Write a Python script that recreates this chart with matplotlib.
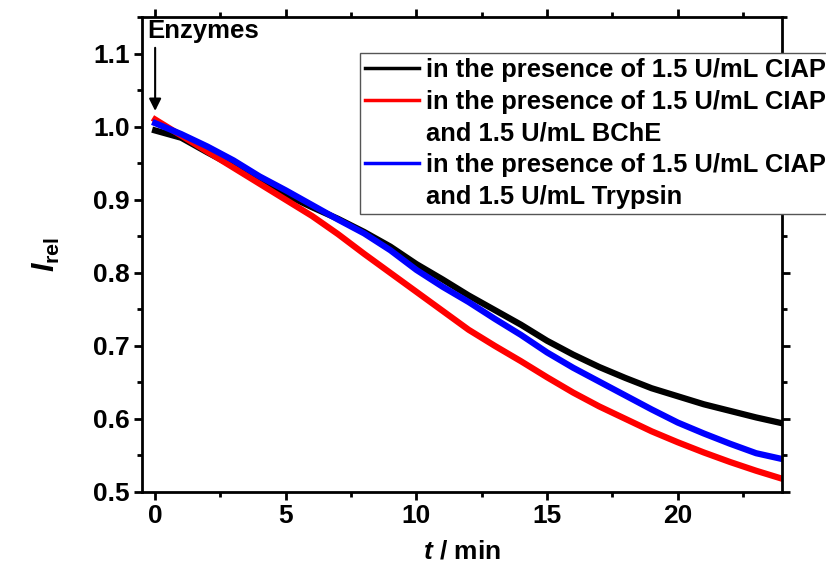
import numpy as np
import matplotlib
matplotlib.use("Agg")
import matplotlib.pyplot as plt
from matplotlib.lines import Line2D
from matplotlib.ticker import MultipleLocator

# values at each minute
t_min = [0, 1, 2, 3, 4, 5, 6, 7, 8, 9, 10, 11, 12,
         13, 14, 15, 16, 17, 18, 19, 20, 21, 22, 23, 24]
ciap = [0.995, 0.985, 0.965, 0.946, 0.926, 0.907, 0.890, 0.874, 0.856, 0.836, 0.812, 0.791, 0.769,
        0.749, 0.729, 0.707, 0.688, 0.671, 0.656, 0.642, 0.631, 0.620, 0.611, 0.602, 0.594]
ciap_bche = [1.010, 0.988, 0.966, 0.944, 0.922, 0.900, 0.878, 0.853, 0.826, 0.800, 0.774, 0.748, 0.722,
             0.700, 0.679, 0.657, 0.636, 0.617, 0.600, 0.583, 0.568, 0.554, 0.541, 0.529, 0.518]
ciap_trypsin = [1.005, 0.990, 0.973, 0.954, 0.932, 0.913, 0.893, 0.873, 0.854, 0.831, 0.804, 0.781, 0.760,
                0.737, 0.715, 0.691, 0.670, 0.651, 0.632, 0.613, 0.595, 0.580, 0.566, 0.553, 0.545]

labels = [
    "in the presence of 1.5 U/mL CIAP",
    "in the presence of 1.5 U/mL CIAP",
    "and 1.5 U/mL BChE",
    "in the presence of 1.5 U/mL CIAP",
    "and 1.5 U/mL Trypsin",
]

plt.rcParams["font.family"] = "Liberation Sans"
plt.rcParams["font.weight"] = "bold"
plt.rcParams["mathtext.fontset"] = "custom"
plt.rcParams["mathtext.rm"] = "Liberation Sans:bold"
plt.rcParams["mathtext.it"] = "Liberation Sans:bold:italic"
plt.rcParams["mathtext.bf"] = "Liberation Sans:bold"

fig = plt.figure(figsize=(8.26, 5.76), dpi=100)
ax = fig.add_axes([0.172, 0.146, 0.775, 0.824])

lw = 4.5
ax.plot(t_min, ciap, color="black", lw=lw)
ax.plot(t_min, ciap_bche, color="red", lw=lw)
ax.plot(t_min, ciap_trypsin, color="blue", lw=lw)

ax.set_xlim(-0.5, 24)
ax.set_ylim(0.5, 1.15)
ax.xaxis.set_major_locator(MultipleLocator(5))
ax.xaxis.set_minor_locator(MultipleLocator(2.5))
ax.yaxis.set_major_locator(MultipleLocator(0.1))
ax.yaxis.set_minor_locator(MultipleLocator(0.05))
ax.tick_params(which="both", direction="out", width=2, top=True, right=True,
               labelsize=19, pad=3)
ax.tick_params(which="major", length=6)
ax.tick_params(which="minor", length=3.5)
for sp in ax.spines.values():
    sp.set_linewidth(2)

ax.set_xlabel(r"$\mathit{t}$ / min", fontsize=19, fontweight="bold", labelpad=8)
ax.set_ylabel(r"$\mathit{I}_{\mathrm{rel}}$", fontsize=22, labelpad=22)

# arrow marking enzyme addition
ax.annotate("", xy=(0, 1.018), xytext=(0, 1.112),
            arrowprops=dict(arrowstyle="-|>", color="black", lw=1.5, mutation_scale=18))
ax.text(-0.3, 1.148, "Enzymes", fontsize=18.5, fontweight="bold", va="top", ha="left")

blank = Line2D([], [], color="none")
handles = [Line2D([], [], color="black", lw=2.5),
           Line2D([], [], color="red", lw=2.5),
           blank,
           Line2D([], [], color="blue", lw=2.5),
           blank]
leg = ax.legend(handles, labels, loc="upper left",
                bbox_to_anchor=(360 / 826, 1 - 53 / 576), bbox_transform=fig.transFigure,
                fontsize=18.4, frameon=True, fancybox=False, framealpha=1,
                edgecolor="#555555", handlelength=2.1, handletextpad=0.3,
                labelspacing=0.3, borderpad=0.2, borderaxespad=0)
leg.get_frame().set_linewidth(1)

fig.savefig("out.png", dpi=100)
